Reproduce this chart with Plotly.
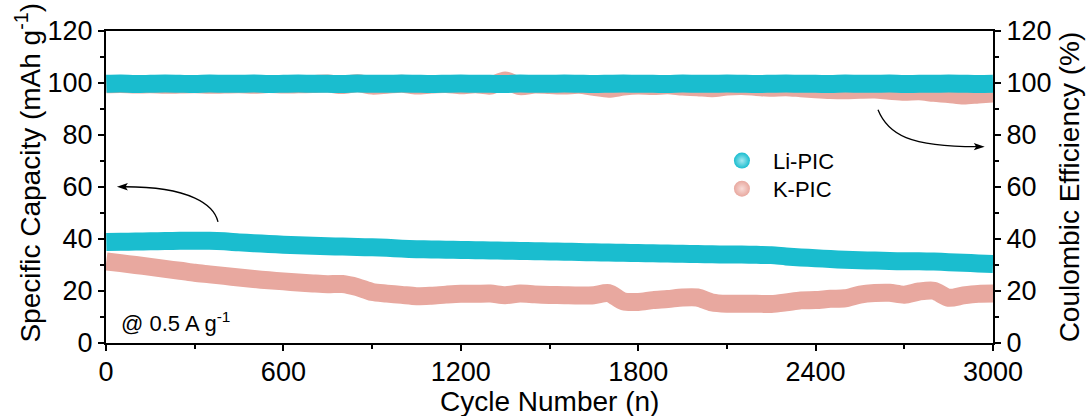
import plotly.graph_objects as go

# Cycle numbers (sampled every 50 cycles)
cycles = [1] + list(range(50, 3001, 50))

# Specific capacity (mAh g-1)
li_capacity = [
    38.8, 38.9, 39.0, 39.1, 39.2, 39.3, 39.3, 39.3, 39.1, 38.7,
    38.4, 38.1, 37.8, 37.6, 37.4, 37.2, 37.1, 36.9, 36.8, 36.6,
    36.3, 36.1, 36.0, 35.9, 35.8, 35.7, 35.6, 35.5, 35.4, 35.3,
    35.2, 35.1, 35.0, 34.9, 34.8, 34.7, 34.6, 34.5, 34.4, 34.3,
    34.2, 34.1, 34.0, 34.0, 33.9, 33.8, 33.3, 32.9, 32.6, 32.3,
    32.0, 31.8, 31.7, 31.5, 31.4, 31.4, 31.3, 31.1, 30.9, 30.6,
    30.4,
]
k_capacity = [
    31.4, 30.7, 30.0, 29.3, 28.5, 27.8, 27.0, 26.4, 25.8, 25.2,
    24.6, 24.1, 23.7, 23.3, 22.9, 22.6, 22.7, 21.5, 19.6, 19.0,
    18.5, 18.0, 18.2, 18.6, 18.9, 18.9, 19.0, 18.4, 19.0, 18.7,
    18.5, 18.4, 18.3, 18.4, 19.2, 16.0, 15.8, 16.5, 16.9, 17.5,
    17.5, 15.6, 15.1, 15.1, 15.1, 15.0, 15.6, 16.4, 16.5, 17.0,
    17.2, 18.6, 19.2, 19.3, 18.6, 19.8, 20.1, 17.4, 18.3, 18.9,
    19.0,
]

# Coulombic efficiency (%)
li_ce = [
    99.7, 99.8, 99.6, 99.7, 99.8, 99.7, 99.6, 99.8, 99.7, 99.7,
    99.8, 99.6, 99.7, 99.8, 99.7, 99.7, 99.6, 99.8, 99.7, 99.7,
    99.8, 99.7, 99.6, 99.7, 99.8, 99.7, 99.7, 99.6, 99.8, 99.7,
    99.7, 99.8, 99.7, 99.6, 99.7, 99.8, 99.7, 99.7, 99.6, 99.8,
    99.7, 99.7, 99.8, 99.7, 99.6, 99.7, 99.8, 99.7, 99.7, 99.6,
    99.8, 99.7, 99.7, 99.8, 99.6, 99.7, 99.7, 99.8, 99.7, 99.6,
    99.7,
]
k_ce = [
    99.5, 99.6, 99.4, 99.5, 99.3, 99.4, 99.5, 99.3, 99.4, 99.5,
    99.3, 99.6, 99.4, 99.5, 99.6, 99.8, 99.2, 99.9, 99.0, 99.3,
    99.7, 99.0, 99.4, 99.6, 99.1, 99.5, 99.0, 101.0, 98.8, 99.4,
    99.2, 99.0, 99.3, 98.5, 97.8, 98.6, 99.0, 98.8, 99.1, 98.6,
    98.4, 98.0, 98.6, 98.8, 98.5, 98.2, 98.4, 98.0, 97.6, 97.3,
    97.2, 97.4, 97.5, 97.0, 96.6, 96.8, 96.2, 95.8, 95.2, 95.6,
    96.0,
]

series_names = ["Li-PIC", "K-PIC"]
LI_COLOR = "#1ABDCF"
K_COLOR = "#E8A89F"
LI_LIGHT = "#A6E9F1"
K_LIGHT = "#F8DCD8"

FONT = "Liberation Sans, Arial, sans-serif"
BAND = 18

fig = go.Figure()


def band(x, y, color, yaxis):
    return go.Scatter(
        x=x, y=y, yaxis=yaxis, mode="lines",
        line=dict(color=color, width=BAND, shape="spline", smoothing=0.8),
        showlegend=False, hoverinfo="skip",
    )


fig.add_trace(band(cycles, k_capacity, K_COLOR, "y"))
fig.add_trace(band(cycles, li_capacity, LI_COLOR, "y"))
fig.add_trace(band(cycles, k_ce, K_COLOR, "y2"))
fig.add_trace(band(cycles, li_ce, LI_COLOR, "y2"))

# legend entries drawn as shaded balls, one legend box each
legend_ids = ["legend", "legend2"]
for name, color, light, lg in zip(series_names, [LI_COLOR, K_COLOR], [LI_LIGHT, K_LIGHT], legend_ids):
    fig.add_trace(go.Scatter(
        x=[None], y=[None], mode="markers", name=name, legend=lg,
        marker=dict(color=color, size=16,
                    gradient=dict(type="radial", color=light),
                    line=dict(width=0)),
    ))

axis_common = dict(
    showline=True, linecolor="black", linewidth=2,
    ticks="outside", ticklen=6, tickwidth=2, tickcolor="black",
    showgrid=False, zeroline=False, automargin=False,
    tickfont=dict(family=FONT, size=27, color="black"),
)
minor_ticks = dict(ticks="outside", ticklen=4, tickwidth=2, tickcolor="black")

legend_common = dict(
    xanchor="left", yanchor="middle", bgcolor="rgba(0,0,0,0)", itemwidth=52,
    font=dict(family=FONT, size=22, color="black"),
)

fig.update_layout(
    template="none",
    width=1091, height=416,
    margin=dict(l=106, r=98, t=31, b=73, autoexpand=False),
    paper_bgcolor="white", plot_bgcolor="white",
    font=dict(family=FONT, color="black"),
    xaxis=dict(
        range=[0, 3000], tickmode="linear", tick0=0, dtick=600,
        mirror=True, ticklabelstandoff=-2,
        minor=dict(dtick=300, **minor_ticks),
        **axis_common,
    ),
    yaxis=dict(
        range=[0, 120], tickmode="linear", tick0=0, dtick=20,
        minor=dict(dtick=10, **minor_ticks),
        **axis_common,
    ),
    yaxis2=dict(
        range=[0, 120], tickmode="linear", tick0=0, dtick=20,
        overlaying="y", side="right",
        minor=dict(dtick=10, **minor_ticks),
        title=dict(text="Coulombic Efficiency (%)", font=dict(family=FONT, size=28), standoff=9),
        **axis_common,
    ),
    legend=dict(x=0.682, y=0.584, **legend_common),
    legend2=dict(x=0.682, y=0.494, **legend_common),
)

title_font = dict(family=FONT, size=28, color="black")

# bottom axis title
fig.add_annotation(
    x=0.5, y=-0.186, xref="paper", yref="paper", xanchor="center", yanchor="middle",
    text="Cycle Number (n)", showarrow=False, font=title_font,
)

# left axis title
fig.add_annotation(
    x=-0.088, y=0.546, xref="paper", yref="paper", xanchor="center", yanchor="middle",
    text="Specific Capacity (mAh g<sup>-1</sup>)", textangle=-90, showarrow=False,
    font=title_font,
)

# current density note
fig.add_annotation(
    x=0.015, y=0.068, xref="paper", yref="paper", xanchor="left", yanchor="middle",
    text="@ 0.5 A g<sup>-1</sup>", showarrow=False,
    font=dict(family=FONT, size=22, color="black"),
)

# curved arrows pointing to each axis, with filled heads
arrow_line = dict(color="black", width=1.3)
fig.add_shape(type="path", xref="x", yref="y", line=arrow_line,
              path="M 378.8,46.6 C 365.3,53.2 284,60.1 64,60.1")
fig.add_shape(type="path", xref="x", yref="y", line=dict(width=0), fillcolor="black",
              path="M 37,60.1 L 74,61.5 L 66,60.1 L 74,58.7 Z")
fig.add_shape(type="path", xref="x", yref="y", line=arrow_line,
              path="M 2611,89.7 C 2645,80.1 2719,75.5 2945,75.5")
fig.add_shape(type="path", xref="x", yref="y", line=dict(width=0), fillcolor="black",
              path="M 2972,75.5 L 2935,76.9 L 2943,75.5 L 2935,74.1 Z")

fig.write_html("out.html")
